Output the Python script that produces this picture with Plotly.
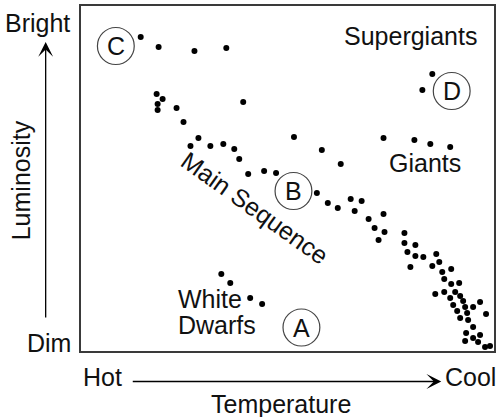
import plotly.graph_objects as go

# Temperature index (0 = hottest, 41.5 = coolest) and luminosity index (0 = dim, 34.5 = bright)
X_MAX = 41.5
Y_MAX = 34.5

ms_temp = [6.0, 7.8, 11.4, 14.6, 7.6, 8.2, 7.7, 7.7, 9.6, 10.3, 11.8, 11.0, 13.0, 14.3, 15.4,
           15.9, 16.8, 18.4, 19.6, 23.7, 24.8, 25.8, 27.1, 28.2, 27.5, 28.9, 30.4, 29.5, 30.5,
           29.9, 32.5, 32.5, 33.6, 32.8, 33.6, 34.4, 33.1, 35.7, 36.0, 35.3, 36.3, 37.2, 36.5,
           37.2, 38.0, 35.6, 36.5, 37.6, 37.1, 38.1, 38.4, 37.4, 38.6, 39.4, 40.1, 37.8, 38.8,
           38.1, 38.9, 40.7, 39.4, 38.7, 39.4, 40.1, 38.6, 39.9, 40.6, 41.1]
ms_lum = [31.4, 30.4, 30.0, 30.3, 25.7, 25.2, 24.7, 24.1, 24.3, 22.9, 21.3, 20.5, 20.5, 20.7, 20.2,
          19.2, 17.7, 18.0, 17.8, 15.8, 14.8, 14.3, 15.2, 15.0, 14.0, 13.2, 13.7, 12.3, 11.9,
          11.1, 11.8, 10.8, 10.6, 9.9, 9.5, 9.4, 8.4, 9.7, 8.9, 8.5, 7.9, 8.2, 7.2,
          6.7, 6.8, 5.7, 5.9, 5.9, 5.3, 5.5, 5.0, 4.6, 4.4, 4.4, 4.9, 4.0, 3.8,
          3.3, 3.1, 3.7, 2.4, 1.8, 1.3, 1.6, 1.0, 0.9, 0.4, 0.5]

giant_temp = [16.3, 21.4, 24.2, 26.1, 30.4, 33.5, 35.1, 37.1]
giant_lum = [24.9, 21.4, 20.1, 18.7, 21.3, 21.1, 20.7, 20.4]

super_temp = [35.3, 34.3]
super_lum = [27.7, 26.1]

wd_temp = [14.1, 15.0, 17.0, 18.2]
wd_lum = [7.7, 6.8, 5.3, 4.7]

# circled region labels
region_names = ["C", "D", "B", "A"]
region_temp = [3.5, 37.25, 21.35, 22.15]
region_lum = [30.5, 26.0, 16.0, 2.35]
region_r = 1.85

FONT = "Liberation Sans, Arial, Helvetica, sans-serif"
TXT = "#111111"
FS = 25

fig = go.Figure()
all_x = ms_temp + giant_temp + super_temp + wd_temp
all_y = ms_lum + giant_lum + super_lum + wd_lum
fig.add_trace(go.Scatter(x=all_x, y=all_y, mode="markers",
                         marker=dict(size=6, color="black", line=dict(width=0)),
                         hoverinfo="skip", showlegend=False))

shapes = []
annotations = []
for name, cx, cy in zip(region_names, region_temp, region_lum):
    shapes.append(dict(type="circle", xref="x", yref="y",
                       x0=cx - region_r, x1=cx + region_r,
                       y0=cy - region_r, y1=cy + region_r,
                       line=dict(color="#444", width=1.2)))
    annotations.append(dict(x=cx, y=cy, xref="x", yref="y", text=name, showarrow=False,
                            font=dict(size=FS, family=FONT, color=TXT),
                            xanchor="center", yanchor="middle"))

def label(text, x, y, xanchor="center", angle=0, ref="x"):
    # positions given in axis units; outside-frame labels use paper refs
    if ref == "paper":
        xr, yr, xv, yv = "paper", "paper", x / X_MAX, y / Y_MAX
    else:
        xr, yr, xv, yv = "x", "y", x, y
    annotations.append(dict(x=xv, y=yv, xref=xr, yref=yr, text=text, showarrow=False,
                            font=dict(size=FS, family=FONT, color=TXT),
                            xanchor=xanchor, yanchor="middle", textangle=angle))

label("Supergiants", 33.1, 31.55)
label("Giants", 34.55, 18.85)
label("White", 9.5, 5.25, xanchor="left")
label("Dwarfs", 9.5, 2.65, xanchor="left")
label("Main Sequence", 17.5, 14.3, angle=35.5)

# axis captions outside the frame
label("Bright", -4.35, 32.8, ref="paper")
label("Dim", -3.25, 0.8, ref="paper")
label("Luminosity", -6.0, 17.1, angle=-90, ref="paper")
label("Hot", 2.15, -2.6, ref="paper")
label("Cool", 39.1, -2.6, ref="paper")
label("Temperature", 20.1, -5.25, ref="paper")

# arrows (tip in paper coords, tail as pixel offset)
annotations.append(dict(x=-3.55 / X_MAX, y=30.9 / Y_MAX, xref="paper", yref="paper",
                        ax=0, ay=277, text="", showarrow=True,
                        arrowhead=3, arrowsize=1.9, arrowwidth=1.3, arrowcolor="black"))
annotations.append(dict(x=36.2 / X_MAX, y=-3.05 / Y_MAX, xref="paper", yref="paper",
                        ax=-310, ay=0, text="", showarrow=True,
                        arrowhead=3, arrowsize=1.9, arrowwidth=1.3, arrowcolor="black"))

fig.update_layout(
    width=499, height=417,
    margin=dict(l=81, r=3, t=6, b=66, pad=0),
    paper_bgcolor="white", plot_bgcolor="white",
    shapes=shapes, annotations=annotations,
    xaxis=dict(range=[0, X_MAX], showgrid=False, zeroline=False, showticklabels=False,
               ticks="", showline=True, mirror=True, linecolor="#3a3a3a", linewidth=1.5,
               fixedrange=True),
    yaxis=dict(range=[0, Y_MAX], showgrid=False, zeroline=False, showticklabels=False,
               ticks="", showline=True, mirror=True, linecolor="#3a3a3a", linewidth=1.5,
               fixedrange=True),
    showlegend=False,
)

fig.write_html("out.html", config={"displayModeBar": False},
               post_script="document.body.style.margin='0';")
